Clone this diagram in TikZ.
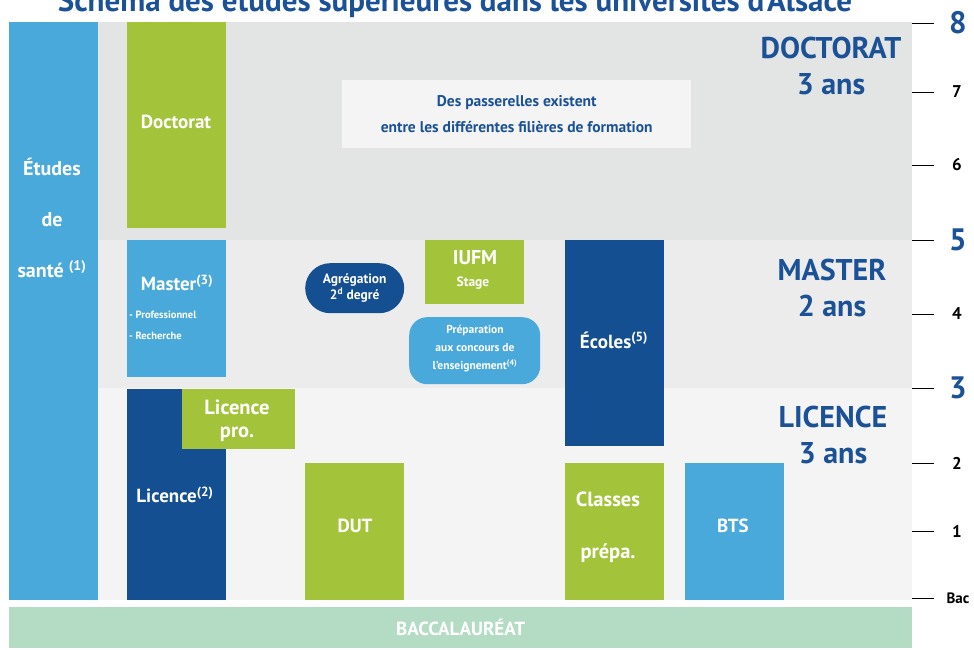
\documentclass[tikz,border=0pt]{standalone}
\usepackage{fontspec}
\setmainfont{PT Sans}
\usetikzlibrary{positioning}
\definecolor{vert}{HTML}{A3C43A}
\definecolor{bleuclair}{HTML}{4AA9DB}
\definecolor{bleufonce}{HTML}{134F91}
\definecolor{bleutexte}{HTML}{1B5196}
\definecolor{grisdoc}{HTML}{E3E5E4}
\definecolor{grismas}{HTML}{ECECEC}
\definecolor{grislic}{HTML}{F4F4F4}
\definecolor{vertbac}{HTML}{B4DBC3}
\newcommand\taille[2]{\fontsize{#1}{#2}\selectfont}

\begin{document}
\begin{tikzpicture}[x=1pt,y=-1pt,
  bloc/.style={anchor=north west,inner sep=0pt,draw=none},
  dim/.style 2 args={minimum width=#1,minimum height=#2},
  blanc/.style={text=white,font=\bfseries\taille{19}{22},align=center,inner sep=0pt},
  niveau/.style={text=bleutexte,font=\bfseries\taille{30}{36},align=center,inner sep=0pt},
  grand/.style={text=bleutexte,font=\bfseries\taille{31}{31},inner sep=0pt},
  petit/.style={text=black,font=\bfseries\taille{17}{17},inner sep=0pt}]
\useasboundingbox (0,0) rectangle (974,650);
\clip (0,0) rectangle (974,650);
\node[anchor=base,text=bleutexte,font=\bfseries\taille{31}{31}] (titre) at (455,12) {Schéma des études supérieures dans les universités d'Alsace};
\node[bloc,fill=grisdoc,dim={903}{218}] (bdoc) at (9,22) {};
\node[bloc,fill=grismas,dim={903}{148}] (bmas) at (9,240) {};
\node[bloc,fill=grislic,dim={903}{212}] (blic) at (9,388) {};
\node[bloc,fill=vertbac,dim={903}{41}] (bac) at (9,607) {};
\node[blanc,font=\bfseries\taille{19}{19}] (tbac) at (bac.center) {BACCALAURÉAT};
\node[bloc,fill=grislic,dim={349}{68}] (passerelles) at (342,80) {};
\node[text=bleutexte,font=\bfseries\taille{15.5}{26},align=center] (tpass) at (passerelles.center) {Des passerelles existent\\entre les différentes filières de formation};
\node[bloc,fill=bleuclair,dim={89}{578}] (sante) at (9,22) {};
\node[blanc,font=\bfseries\taille{20}{51}] (tsante) at (52,218) {Études\\de\\santé \textsuperscript{(1)}};
\node[bloc,fill=vert,dim={99}{206}] (doctorat) at (127,22) {};
\node[blanc] (tdoctorat) at (176,122) {Doctorat};
\node[bloc,fill=bleuclair,dim={99}{137}] (master) at (127,240) {};
\node[blanc] (tmaster) at (177,283) {Master\textsuperscript{(3)}};
\node[blanc,anchor=west,font=\bfseries\taille{10.5}{21},align=left] (tparcours) at (129,325) {- Professionnel\\- Recherche};
\node[bloc,fill=bleufonce,dim={99}{211}] (licence) at (127,389) {};
\node[blanc] (tlicence) at (175,495) {Licence\textsuperscript{(2)}};
\node[bloc,fill=vert,dim={113}{60}] (licpro) at (182,389) {};
\node[blanc,font=\bfseries\taille{20.5}{23}] (tlicpro) at (237,421) {Licence\\pro.};
\node[bloc,fill=vert,dim={99}{137}] (dut) at (305,463) {};
\node[blanc] (tdut) at (355,526) {DUT};
\node[bloc,fill=bleufonce,rounded corners=25,dim={99}{50}] (agreg) at (305,263) {};
\node[blanc,font=\bfseries\taille{13.5}{16}] (tagreg) at (agreg.center) {Agrégation\\2\textsuperscript{d} degré};
\node[bloc,fill=vert,dim={99}{64}] (iufm) at (425,240) {};
\node[blanc,font=\bfseries\taille{20}{20}] (tiufm) at (475,258) {IUFM};
\node[blanc,font=\bfseries\taille{13.5}{13.5}] (tstage) at (473,283) {Stage};
\node[bloc,fill=bleuclair,rounded corners=18,dim={131}{67}] (prepa) at (409,317) {};
\node[blanc,font=\bfseries\taille{11.5}{18}] (tprepa) at (475,349) {Préparation\\aux concours de\\l'enseignement\textsuperscript{(4)}};
\node[bloc,fill=bleufonce,dim={99}{206}] (ecoles) at (565,240) {};
\node[blanc] (tecoles) at (614,340) {Écoles\textsuperscript{(5)}};
\node[bloc,fill=vert,dim={99}{137}] (classes) at (565,463) {};
\node[blanc,font=\bfseries\taille{20.5}{52}] (tclasses) at (608,527) {Classes\\prépa.};
\node[bloc,fill=bleuclair,dim={99}{137}] (bts) at (685,463) {};
\node[blanc] (tbts) at (733,526) {BTS};
\node[niveau] (ndoc) at (831,66) {DOCTORAT\\3 ans};
\node[niveau] (nmas) at (832,288) {MASTER\\2 ans};
\node[niveau] (nlic) at (833,435) {LICENCE\\3 ans};
\foreach \y in {23,92,165,240,314,388,463,531,598}
  \draw[line width=.8] (912,\y) -- (934,\y);
\foreach \y/\n in {23/8,240/5,388/3}
  \node[grand] (an\n) at (958,\y) {\n};
\foreach \y/\n in {92/7,165/6,314/4,463/2,531/1}
  \node[petit] (an\n) at (957,\y) {\n};
\node[petit,font=\bfseries\taille{15}{15}] (anbac) at (958,598) {Bac};
\end{tikzpicture}
\end{document}
